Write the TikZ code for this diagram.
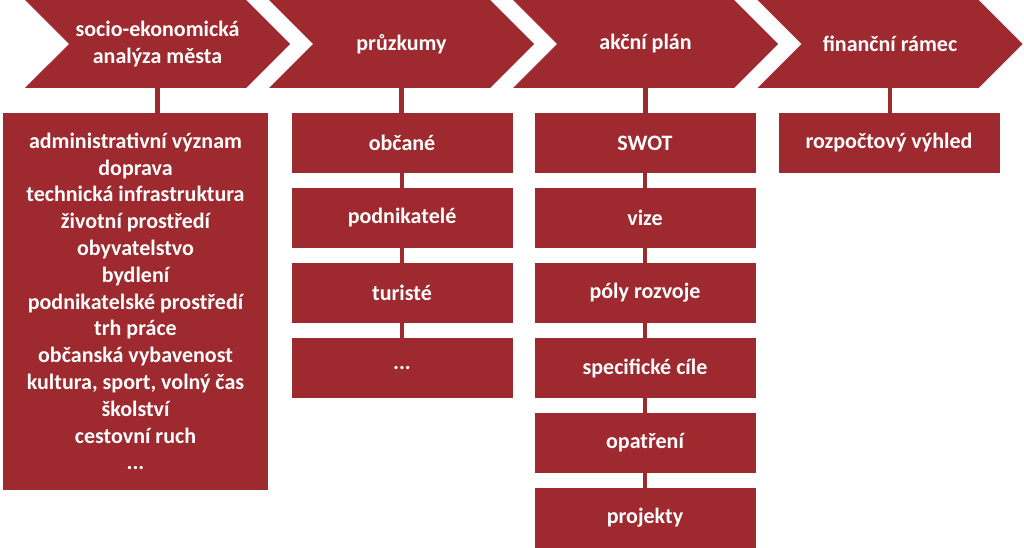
\documentclass[tikz,border=0pt]{standalone}
\usepackage{fontspec}
\setmainfont{Carlito}
\usetikzlibrary{shapes.symbols}
\definecolor{planred}{RGB}{158,41,46}

\tikzset{
  phase/.style={signal, signal to=east, signal from=west, signal pointer angle=90,
    fill=planred, text=white, minimum width=265pt, minimum height=88pt,
    inner sep=0pt, align=center, font=\bfseries\fontsize{22}{27}\selectfont},
  item/.style={fill=planred, text=white, minimum width=221pt, minimum height=60pt,
    inner sep=0pt, align=center, font=\bfseries\fontsize{22}{26.8}\selectfont},
  link/.style={draw=planred, line width=4.5pt}
}

\begin{document}
\begin{tikzpicture}[x=1pt,y=-1pt]
    \useasboundingbox (0,0) rectangle (1024,548);

    % phases
    \node[phase] (analyza) at (157.5,44) {socio-ekonomická\\analýza města};
    \node[phase] (pruzkumy) at (401.5,44) {průzkumy};
    \node[phase] (akce) at (645.5,44) {akční plán};
    \node[phase] (finance) at (890,44) {finanční rámec};

    % socio-economic analysis
    \node[item, minimum width=265pt, minimum height=377pt] (temata) at (135.5,301.5)
      {administrativní význam\\doprava\\technická infrastruktura\\životní prostředí\\obyvatelstvo\\bydlení\\podnikatelské prostředí\\trh práce\\občanská vybavenost\\kultura, sport, volný čas\\školství\\cestovní ruch\\...};

    % surveys
    \node[item] (obcane) at (402,143) {občané};
    \node[item] (podnik) at (402,218) {podnikatelé};
    \node[item] (turiste) at (402,293) {turisté};
    \node[item] (dalsi) at (402,368) {...};

    % action plan
    \node[item] (swot) at (645,143) {SWOT};
    \node[item] (vize) at (645,218) {vize};
    \node[item] (poly) at (645,293) {póly rozvoje};
    \node[item] (cile) at (645,368) {specifické cíle};
    \node[item] (opatreni) at (645,443) {opatření};
    \node[item] (projekty) at (645,518) {projekty};

    % financial framework
    \node[item] (vyhled) at (889,143) {rozpočtový výhled};

    \draw[link] (analyza.south) -- (analyza.south |- temata.north);

    \draw[link] (pruzkumy.south) -- (pruzkumy.south |- obcane.north);
    \draw[link] (obcane.south) -- (podnik.north);
    \draw[link] (podnik.south) -- (turiste.north);
    \draw[link] (turiste.south) -- (dalsi.north);

    \draw[link] (akce.south) -- (akce.south |- swot.north);
    \draw[link] (swot.south) -- (vize.north);
    \draw[link] (vize.south) -- (poly.north);
    \draw[link] (poly.south) -- (cile.north);
    \draw[link] (cile.south) -- (opatreni.north);
    \draw[link] (opatreni.south) -- (projekty.north);

    \draw[link] (finance.south) -- (finance.south |- vyhled.north);
\end{tikzpicture}
\end{document}
